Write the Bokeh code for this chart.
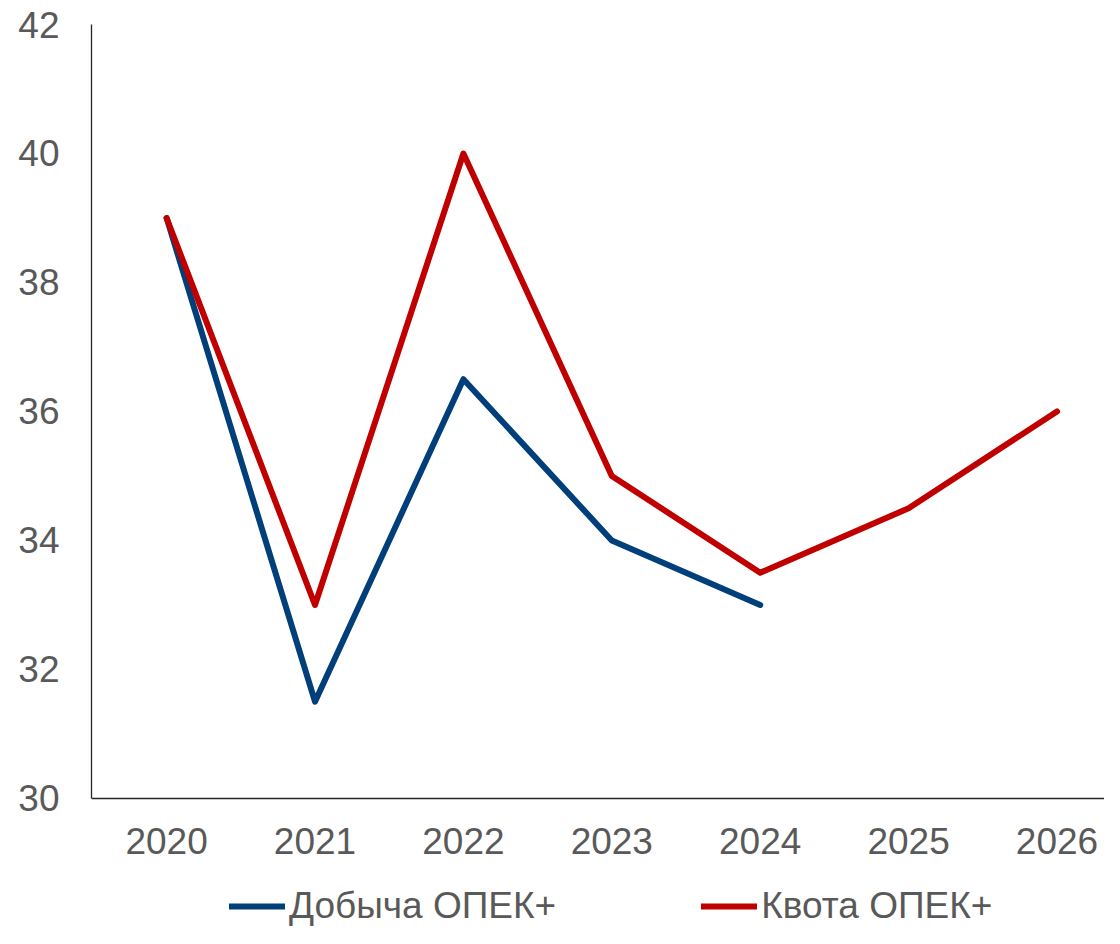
from bokeh.plotting import figure
from bokeh.models import Legend, LegendItem, Range1d, FixedTicker
from bokeh.embed import file_html
from bokeh.resources import INLINE

years = [2020, 2021, 2022, 2023, 2024, 2025, 2026]
production_years = [2020, 2021, 2022, 2023, 2024]
production = [39.0, 31.5, 36.5, 34.0, 33.0]
quota = [39.0, 33.0, 40.0, 35.0, 33.5, 34.5, 36.0]
y_ticks = [30, 32, 34, 36, 38, 40, 42]
year_labels = {y: str(y) for y in years}
label_prod = "Добыча ОПЕК+"
label_quota = "Квота ОПЕК+"

FONT = "Liberation Sans"
GREY = "#595959"

p = figure(width=1104, height=928, output_backend="svg",
           toolbar_location=None, min_border_left=91, min_border_right=0,
           min_border_top=24, min_border_bottom=0)
p.x_range = Range1d(2019.494, 2026.32)
p.y_range = Range1d(27.984, 42)

p.outline_line_color = None
p.grid.grid_line_color = None
p.background_fill_color = "white"
p.border_fill_color = "white"

r1 = p.line(production_years, production, line_color="#003f7a", line_width=6,
            line_join="round", line_cap="round")
r2 = p.line(years, quota, line_color="#c00000", line_width=6,
            line_join="round", line_cap="round")

p.xaxis.ticker = FixedTicker(ticks=years)
p.xaxis.major_label_overrides = year_labels
p.xaxis.fixed_location = 30
p.yaxis.ticker = FixedTicker(ticks=y_ticks)
p.yaxis.bounds = (30, 42)
for ax in (p.xaxis[0], p.yaxis[0]):
    ax.axis_line_color = "#262626"
    ax.axis_line_width = 1.3
    ax.major_tick_line_color = None
    ax.minor_tick_line_color = None
    ax.major_label_text_font = FONT
    ax.major_label_text_font_size = "37px"
    ax.major_label_text_color = GREY
p.yaxis.major_label_standoff = 26
p.xaxis.major_label_standoff = 24

legend = Legend(items=[LegendItem(label=label_prod, renderers=[r1]),
                       LegendItem(label=label_quota, renderers=[r2])],
                orientation="horizontal", location=(138, 1),
                label_text_font=FONT, label_text_font_size="37px",
                label_text_color=GREY, glyph_width=56, glyph_height=20,
                label_standoff=4, spacing=145, border_line_color=None,
                background_fill_alpha=0, padding=0, margin=0)
p.add_layout(legend, "center")

open("out.html", "w").write(file_html(p, INLINE))
